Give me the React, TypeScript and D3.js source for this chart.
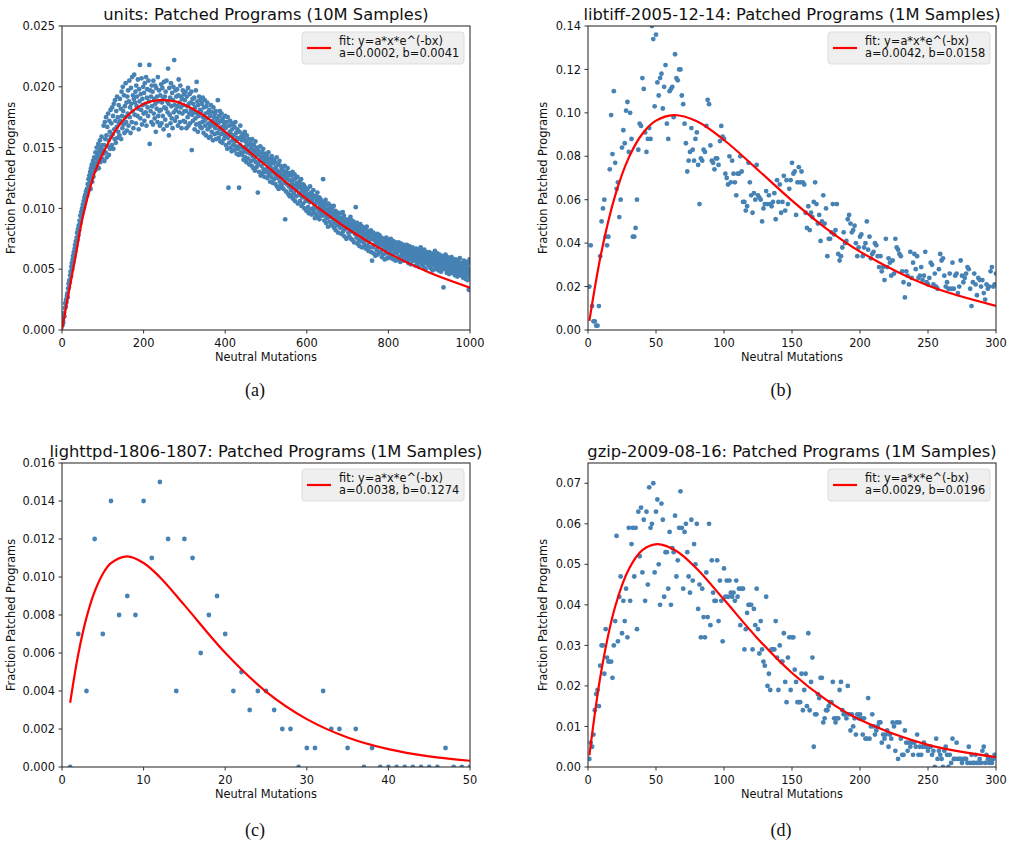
import React from "react";
import * as d3 from "d3";

// ---------- DATA ----------
// (a) units: fraction patched, in units of 1e-4, for neutral mutations x = 1..1000
const unitsY: number[] = [
  4,8,6,12,14,11,18,22,19,25,23,28,30,27,34,38,35,41,39,45,
  48,44,52,55,50,58,61,56,64,60,67,70,65,73,69,76,80,74,83,78,
  86,82,90,87,94,89,97,93,100,96,103,99,106,101,109,104,111,107,114,110,
  116,111,120,114,124,118,127,121,130,116,133,125,136,122,129,139,126,134,142,131,
  137,146,132,141,150,135,144,139,153,133,147,142,156,138,150,145,159,141,152,148,
  145,168,152,139,171,157,146,175,160,142,167,151,178,156,144,172,163,149,181,159,
  170,152,183,161,176,149,186,165,157,189,172,154,180,167,192,158,175,163,185,170,
  160,190,172,182,157,196,176,166,200,180,169,193,162,184,175,203,171,187,164,192,
  178,197,168,188,205,175,183,162,199,186,171,208,180,193,166,190,210,177,187,196,
  170,201,184,192,176,206,182,165,198,188,218,174,194,181,207,169,190,185,200,178,
  195,172,203,186,179,208,168,191,198,183,176,205,188,218,153,197,180,192,171,201,
  184,196,169,205,178,190,174,201,186,163,199,182,192,171,208,176,188,197,180,168,
  193,181,202,170,187,199,176,190,165,204,183,192,173,196,182,205,168,188,179,215,
  186,160,199,177,191,170,203,184,174,195,166,189,200,179,222,185,172,197,181,192,
  175,198,184,168,193,206,179,187,171,201,183,192,166,190,178,197,185,172,194,180,
  189,171,196,180,166,192,184,175,199,168,186,178,194,170,187,181,196,148,177,190,
  172,186,179,191,165,183,174,197,169,204,178,188,163,185,176,192,170,181,167,189,
  180,166,186,171,191,175,162,183,172,189,168,178,160,184,174,187,165,179,170,158,
  181,167,176,159,185,170,163,179,172,156,183,168,175,161,178,166,180,157,171,174,
  162,189,170,158,176,165,180,155,172,161,178,167,154,174,163,171,157,168,160,176,
  166,152,171,160,149,175,158,117,168,154,163,172,150,161,169,147,165,156,170,152,
  160,148,167,155,171,151,162,145,158,165,149,157,144,117,163,152,168,146,159,150,
  156,144,161,150,140,158,147,163,142,155,151,138,160,146,153,141,157,148,136,152,
  145,154,139,150,135,157,143,148,133,152,140,146,131,155,138,149,134,144,150,113,
  136,147,130,144,139,151,127,142,135,146,129,140,149,132,143,126,138,145,130,141,
  132,144,125,138,130,146,128,136,141,122,134,139,126,143,130,121,137,132,140,124,
  129,138,120,134,127,142,118,131,125,136,116,130,139,122,128,135,119,127,133,117,
  125,131,116,128,121,135,91,126,114,130,120,124,133,112,127,118,129,110,123,119,
  115,127,111,122,130,108,119,124,113,128,106,118,125,110,121,116,126,104,117,120,
  111,122,106,118,113,124,102,116,109,120,104,114,119,100,112,117,106,115,98,110,
  107,116,101,112,96,110,105,118,99,108,113,95,106,111,100,115,97,109,103,92,
  104,110,95,107,100,113,93,105,98,109,91,103,108,96,101,106,94,104,99,124,
  97,105,90,102,94,107,88,99,103,92,97,85,104,95,100,89,98,93,102,86,
  94,100,87,96,91,102,84,95,89,98,82,93,97,86,91,95,80,92,88,96,
  90,84,96,87,79,92,85,97,81,89,94,77,88,83,91,86,75,90,84,87,
  88,80,91,77,86,83,93,75,87,81,90,74,85,82,89,72,84,79,86,101,
  83,76,88,71,81,86,74,84,69,80,87,73,82,77,68,85,75,80,72,84,
  78,70,83,67,79,74,85,69,76,81,65,78,72,80,68,75,82,64,77,57,
  75,68,80,63,74,70,78,61,73,77,66,72,79,62,71,75,64,78,69,73,
  71,64,76,60,70,74,62,73,67,75,58,69,72,63,76,66,59,71,67,74,
  68,72,61,70,64,75,59,67,71,62,69,73,58,66,70,63,72,57,65,69,
  63,70,58,67,72,60,65,69,56,66,71,61,64,68,57,66,70,59,63,67,
  61,68,57,64,70,59,63,66,55,62,69,58,64,67,54,61,65,60,68,57,
  62,57,66,59,64,53,61,67,58,63,55,60,66,52,59,64,57,62,68,56,
  60,65,54,59,63,52,58,66,56,61,50,59,64,55,60,57,62,53,58,64,
  56,61,51,58,63,54,59,49,57,62,53,60,55,65,50,58,61,52,57,63,
  54,60,49,57,62,52,56,59,48,55,61,51,58,53,35,57,60,50,55,62,
  52,58,47,55,60,50,54,57,46,53,59,49,56,51,60,47,54,58,49,55,
  51,57,45,53,58,48,52,56,44,50,57,47,54,49,59,45,52,55,46,53,
  49,55,43,51,57,46,50,54,42,48,56,45,52,41,55,47,33,50,58,44,
];
const unitsScale = 1e-4;
const fitUnitsX = [0, 16, 33, 49, 65, 82, 106, 131, 163, 204, 240, 280, 340, 400, 500, 600, 700, 800, 900, 1000];
const fitUnitsY = [0, 0.003, 0.006, 0.009, 0.0112, 0.0131, 0.0149, 0.0164, 0.0177, 0.01864, 0.0189, 0.01878, 0.0178, 0.0163, 0.01351, 0.01076, 0.00833, 0.00632, 0.00472, 0.00348];

// (b) libtiff: fraction patched, in units of 1e-3, x = 1..300
const libtiffY: number[] = [
  20,39,11,4,4,2,2,11,34,50, 56,60,43,39,43,74,99,81,110,77,
  65,68,52,60,84,92,86,101,105,82, 100,88,43,43,47,60,83,95,94,116,
  111,91,82,88,93,88,140,134,103,136, 114,108,116,118,102,112,122,95,88,110,
  111,112,98,127,116,115,120,120,108,104, 95,86,73,78,82,93,83,78,88,91,
  76,58,79,78,83,82,94,106,104,85, 78,77,74,79,79,76,87,94,89,88,
  72,70,67,80,68,78,72,68,62,72, 72,80,73,59,59,55,57,77,68,62,
  54,63,60,76,62,61,60,50,56,58, 64,58,62,58,57,59,63,51,69,59,
  67,54,59,71,55,69,58,65,69,77, 72,73,53,68,75,68,73,68,67,54,
  47,57,46,54,52,59,68,58,49,53, 41,50,62,49,56,34,42,42,45,58,
  44,46,58,35,32,34,38,45,40,41, 51,53,49,45,46,48,40,34,38,43,
  44,34,38,40,50,37,43,33,35,36, 40,39,34,29,34,27,29,23,42,29,
  33,31,25,32,26,42,38,37,35,34, 27,22,15,27,25,21,36,24,31,35,
  28,34,24,25,29,23,25,36,22,21, 24,31,30,21,26,20,19,28,35,32,
  33,25,20,22,19,26,19,31,19,25, 26,17,20,32,25,22,24,26,29,28,
  19,11,22,26,21,16,24,23,20,23, 17,14,21,19,20,27,29,20,21,26,
];
const libtiffScale = 1e-3;
const fitLibtiffX = [1, 10, 20, 30, 40, 50, 63, 80, 100, 125, 150, 175, 200, 250, 300];
const fitLibtiffY = [0.00418, 0.0363, 0.062, 0.0794, 0.0904, 0.0964, 0.099, 0.0961, 0.0875, 0.0737, 0.0596, 0.0468, 0.0361, 0.02046, 0.01114];

// (c) lighttpd: fraction patched, in units of 1e-3, x = 1..50
const lighttpdY: number[] = [
  0,7,4,12,7,14,8,9,8,14, 11,15,12,4,12,11,6,8,9,7,
  4,5,3,4,4,3,2,2,0,1, 1,4,2,2,1,2,0,1,0,0,
  0,0,0,0,0,0,1,0,0,0,
];
const lighttpdScale = 1e-3;
const fitLighttpdX = [1, 2, 3, 4, 5, 6, 8, 10, 12, 15, 20, 25, 30, 35, 40, 45, 50];
const fitLighttpdY = [0.00338, 0.00595, 0.00786, 0.00923, 0.01016, 0.01073, 0.01109, 0.01074, 0.00999, 0.00852, 0.00601, 0.00397, 0.00252, 0.001555, 0.00094, 0.00056, 0.00033];

// (d) gzip: fraction patched, in units of 1e-3, x = 1..300
const gzipY: number[] = [
  2,6,5,8,14,18,19,15,25,30, 30,23,34,27,26,26,26,22,30,36,
  57,31,42,47,33,41,36,44,32,59, 41,55,59,47,59,34,63,52,64,48,
  61,41,63,45,69,59,60,70,48,63, 66,50,40,65,61,42,53,53,44,58,
  40,54,53,62,47,51,59,68,59,44, 58,60,53,47,43,61,46,55,50,60,
  39,45,32,44,37,32,48,37,60,35, 51,43,41,41,51,36,46,41,31,49,
  42,46,42,46,43,42,43,41,46,42, 44,35,44,44,29,34,38,40,40,40,
  29,39,35,44,34,28,36,29,26,25, 42,20,23,19,29,29,29,36,27,19,
  30,26,26,33,21,16,27,32,19,32, 32,24,21,16,16,16,23,14,19,23,
  15,33,14,21,27,5,13,13,18,17, 22,22,11,12,14,14,15,16,16,21,
  12,11,12,12,19,21,14,13,13,12, 20,13,9,13,10,12,8,13,12,13,
  12,8,12,7,7,17,7,10,13,10, 8,9,10,11,11,6,8,7,8,9,
  5,8,7,11,10,4,11,2,11,7, 3,3,9,6,4,6,5,6,3,6,
  5,8,3,5,3,5,6,5,5,4, 5,5,3,4,0,7,2,4,3,2,
  0,4,5,3,0,3,1,7,2,2, 6,2,2,2,1,2,2,2,1,5,
  1,3,1,1,3,1,1,2,1,4, 5,1,3,2,1,2,1,2,3,3,
];
const gzipScale = 1e-3;
const fitGzipX = [1, 10, 20, 30, 40, 51, 65, 80, 100, 125, 150, 175, 200, 250, 300];
const fitGzipY = [0.00287, 0.02408, 0.0396, 0.0488, 0.0535, 0.055, 0.0533, 0.0489, 0.0413, 0.0316, 0.0232, 0.0166, 0.01163, 0.00545, 0.00246];

const titles = [
  "units: Patched Programs (10M Samples)",
  "libtiff-2005-12-14: Patched Programs (1M Samples)",
  "lighttpd-1806-1807: Patched Programs (1M Samples)",
  "gzip-2009-08-16: Patched Programs (1M Samples)",
];
const fitParams = ["a=0.0002, b=0.0041", "a=0.0042, b=0.0158", "a=0.0038, b=0.1274", "a=0.0029, b=0.0196"];
const captions = ["(a)", "(b)", "(c)", "(d)"];
const xTicksA = [0, 200, 400, 600, 800, 1000];
const yTicksA = [0, 0.005, 0.01, 0.015, 0.02, 0.025];
const xTicksB = [0, 50, 100, 150, 200, 250, 300];
const yTicksB = [0, 0.02, 0.04, 0.06, 0.08, 0.1, 0.12, 0.14];
const xTicksC = [0, 10, 20, 30, 40, 50];
const yTicksC = [0, 0.002, 0.004, 0.006, 0.008, 0.01, 0.012, 0.014, 0.016];
const xTicksD = [0, 50, 100, 150, 200, 250, 300];
const yTicksD = [0, 0.01, 0.02, 0.03, 0.04, 0.05, 0.06, 0.07];

// ---------- LAYOUT ----------
const FONT = "'DejaVu Sans', sans-serif";
const DOT = "#4682b4";
const FIT = "#ff0000";

type Panel = {
  id: string;
  title: string;
  ys: number[];
  scale: number;
  fitX: number[];
  fitY: number[];
  params: string;
  caption: string;
  xDomain: [number, number];
  yDomain: [number, number];
  xTicks: number[];
  yTicks: number[];
  yFmt: string;
  left: number;
  right: number;
  top: number;
  bottom: number;
  yLabelX: number;
  capX: number;
  capY: number;
};

const panels: Panel[] = [
  { id: "a", title: titles[0], ys: unitsY, scale: unitsScale, fitX: fitUnitsX, fitY: fitUnitsY, params: fitParams[0], caption: captions[0],
    xDomain: [0, 1000], yDomain: [0, 0.025], xTicks: xTicksA, yTicks: yTicksA, yFmt: ".3f",
    left: 62, right: 470, top: 26, bottom: 330, yLabelX: 14.5, capX: 255, capY: 396 },
  { id: "b", title: titles[1], ys: libtiffY, scale: libtiffScale, fitX: fitLibtiffX, fitY: fitLibtiffY, params: fitParams[1], caption: captions[1],
    xDomain: [0, 300], yDomain: [0, 0.14], xTicks: xTicksB, yTicks: yTicksB, yFmt: ".2f",
    left: 588, right: 996, top: 26, bottom: 330, yLabelX: 547, capX: 781, capY: 396 },
  { id: "c", title: titles[2], ys: lighttpdY, scale: lighttpdScale, fitX: fitLighttpdX, fitY: fitLighttpdY, params: fitParams[2], caption: captions[2],
    xDomain: [0, 50], yDomain: [0, 0.016], xTicks: xTicksC, yTicks: yTicksC, yFmt: ".3f",
    left: 62, right: 470, top: 463, bottom: 767, yLabelX: 14.5, capX: 255, capY: 836 },
  { id: "d", title: titles[3], ys: gzipY, scale: gzipScale, fitX: fitGzipX, fitY: fitGzipY, params: fitParams[3], caption: captions[3],
    xDomain: [0, 300], yDomain: [0, 0.075], xTicks: xTicksD, yTicks: yTicksD, yFmt: ".2f",
    left: 588, right: 996, top: 463, bottom: 767, yLabelX: 547, capX: 781, capY: 836 },
];

function PanelView({ p }: { p: Panel }) {
  const x = d3.scaleLinear().domain(p.xDomain).range([p.left, p.right]);
  const y = d3.scaleLinear().domain(p.yDomain).range([p.bottom, p.top]);
  const fmt = d3.format(p.yFmt);
  const pts = p.ys.map((v, i) => [i + 1, v * p.scale] as [number, number]);
  const fitPts = p.fitX.map((v, i) => [v, p.fitY[i]] as [number, number]);
  const line = d3
    .line<[number, number]>()
    .x((d) => x(d[0]))
    .y((d) => y(d[1]))
    .curve(d3.curveCatmullRom.alpha(0.5));
  const cx = (p.left + p.right) / 2;
  const cy = (p.top + p.bottom) / 2;
  const lgW = 162;
  const lgH = 32;
  const lgX = p.right - 6 - lgW;
  const lgY = p.top + 6;
  return (
    <g>
      <defs>
        <clipPath id={"clip-" + p.id}>
          <rect x={p.left} y={p.top} width={p.right - p.left} height={p.bottom - p.top} />
        </clipPath>
      </defs>
      <g clipPath={`url(#clip-${p.id})`}>
        {pts.map((d, i) => (
          <circle key={i} cx={x(d[0])} cy={y(d[1])} r={2.4} fill={DOT} />
        ))}
        <path d={line(fitPts) || ""} fill="none" stroke={FIT} strokeWidth={2.2} strokeLinejoin="round" />
      </g>
      <rect x={p.left} y={p.top} width={p.right - p.left} height={p.bottom - p.top} fill="none" stroke="#333" strokeWidth={1.1} />
      {p.xTicks.map((t) => (
        <g key={"x" + t}>
          <line x1={x(t)} x2={x(t)} y1={p.bottom} y2={p.bottom + 3.5} stroke="#333" strokeWidth={1} />
          <text x={x(t)} y={p.bottom + 17} textAnchor="middle" fontSize={11.4} fontFamily={FONT} fill="#111">
            {t}
          </text>
        </g>
      ))}
      {p.yTicks.map((t) => (
        <g key={"y" + t}>
          <line x1={p.left - 3.5} x2={p.left} y1={y(t)} y2={y(t)} stroke="#333" strokeWidth={1} />
          <text x={p.left - 7} y={y(t) + 4.1} textAnchor="end" fontSize={11.4} fontFamily={FONT} fill="#111">
            {fmt(t)}
          </text>
        </g>
      ))}
      <text x={cx} y={p.bottom + 31} textAnchor="middle" fontSize={11.4} fontFamily={FONT} fill="#111">
        Neutral Mutations
      </text>
      <text
        transform={`translate(${p.yLabelX},${cy}) rotate(-90)`}
        textAnchor="middle"
        fontSize={11.4}
        fontFamily={FONT}
        fill="#111"
      >
        Fraction Patched Programs
      </text>
      <text x={cx} y={p.top - 6.5} textAnchor="middle" fontSize={16.3} fontFamily={FONT} fill="#111">
        {p.title}
      </text>
      <rect x={lgX} y={lgY} width={lgW} height={lgH} rx={3} fill="#eeefee" stroke="#dddddd" strokeWidth={1} />
      <line x1={lgX + 5} x2={lgX + 29} y1={lgY + 16} y2={lgY + 16} stroke={FIT} strokeWidth={2.2} />
      <text x={lgX + 37} y={lgY + 12.5} fontSize={11.4} fontFamily={FONT} fill="#111">
        fit: y=a*x*e^(-bx)
      </text>
      <text x={lgX + 37} y={lgY + 25} fontSize={11.4} fontFamily={FONT} fill="#111">
        {p.params}
      </text>
      <text x={p.capX} y={p.capY} textAnchor="middle" fontSize={18} fontFamily="'Liberation Serif', serif" fill="#111">
        {p.caption}
      </text>
    </g>
  );
}

export default function App() {
  return (
    <svg
      width={1014}
      height={844}
      viewBox="0 0 1014 844"
      style={{ position: "absolute", left: 0, top: 0, background: "#fff" }}
    >
      <rect x={0} y={0} width={1014} height={844} fill="#fff" />
      {panels.map((p) => (
        <PanelView key={p.id} p={p} />
      ))}
    </svg>
  );
}
